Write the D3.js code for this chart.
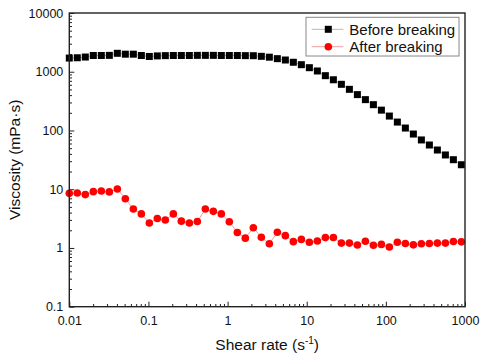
<!DOCTYPE html>
<html>
<head>
<meta charset="utf-8">
<script src="https://cdn.jsdelivr.net/npm/d3@7"></script>
<style>
  html, body { margin: 0; padding: 0; background: #fff; }
  svg { display: block; font-family: Arial, "Liberation Sans", sans-serif; }
</style>
</head>
<body>
<div id="chart"></div>
<script>
// shear rate (1/s), about ten points per decade
const shearRate = [
  0.01, 0.01262, 0.01593, 0.02011, 0.02539, 0.03205, 0.04045, 0.05106, 0.06445, 0.08136,
  0.1026, 0.1295, 0.1634, 0.2063, 0.2604, 0.3287, 0.4149, 0.5238, 0.6611, 0.8337,
  1.052, 1.328, 1.676, 2.115, 2.670, 3.370, 4.254, 5.369, 6.777, 8.554,
  10.80, 13.63, 17.20, 21.72, 27.41, 34.60, 43.67, 55.13, 69.58, 87.83,
  110.7, 139.7, 176.4, 222.6, 281.0, 354.7, 447.7, 565.1, 713.2, 899.7,
];

const viscosityBefore = [
  1710, 1730, 1780, 1890, 1890, 1900, 2060, 1990, 1990, 1890,
  1820, 1860, 1880, 1890, 1890, 1890, 1900, 1900, 1900, 1890,
  1890, 1890, 1880, 1875, 1830, 1770, 1670, 1584, 1450, 1318,
  1172, 1030, 857, 730, 611, 502, 408, 335, 275, 222,
  176, 139, 110, 87, 69, 56.6, 46.5, 38.3, 31.8, 26.1,
];

const viscosityAfter = [
  8.5, 8.6, 8.1, 9.1, 9.3, 9.0, 10.1, 6.9, 4.6, 3.8,
  2.66, 3.17, 3.0, 3.8, 2.86, 2.66, 2.82, 4.6, 4.2, 3.8,
  2.8, 1.83, 1.47, 2.21, 1.52, 1.18, 1.85, 1.62, 1.28, 1.40,
  1.25, 1.31, 1.50, 1.51, 1.21, 1.21, 1.12, 1.30, 1.11, 1.15,
  1.04, 1.25, 1.19, 1.13, 1.18, 1.19, 1.21, 1.21, 1.29, 1.27,
];

const xTicks = [0.01, 0.1, 1, 10, 100, 1000];
const xTickLabels = ['0.01', '0.1', '1', '10', '100', '1000'];
const yTicks = [0.1, 1, 10, 100, 1000, 10000];
const yTickLabels = ['0.1', '1', '10', '100', '1000', '10000'];
const seriesNames = ['Before breaking', 'After breaking'];

const width = 484;
const height = 356;
const margin = { top: 13, right: 19, bottom: 49.3, left: 69.3 };

const svg = d3.select('#chart').append('svg')
  .attr('width', width)
  .attr('height', height)
  .attr('viewBox', `0 0 ${width} ${height}`);

const x = d3.scaleLog().domain([0.01, 1000]).range([margin.left, width - margin.right]);
const y = d3.scaleLog().domain([0.1, 10000]).range([height - margin.bottom, margin.top]);

// minor ticks 2..9 in every decade
const minorOf = (lo, hi) => {
  const out = [];
  for (let d = lo; d < hi; d *= 10) {
    for (let k = 2; k <= 9; k++) out.push(d * k);
  }
  return out;
};

const plotBottom = height - margin.bottom;

// x axis
svg.append('g')
  .attr('transform', `translate(0,${plotBottom})`)
  .call(d3.axisBottom(x).tickValues(minorOf(0.01, 1000)).tickSize(-2.7).tickFormat(''))
  .call((g) => g.select('.domain').remove());

const xAxis = svg.append('g')
  .attr('transform', `translate(0,${plotBottom})`)
  .call(d3.axisBottom(x).tickValues(xTicks).tickSize(-5).tickPadding(9)
    .tickFormat((d, i) => xTickLabels[i]));
xAxis.select('.domain').remove();
xAxis.selectAll('text').attr('font-size', 12.5).attr('fill', '#111');

// y axis
svg.append('g')
  .attr('transform', `translate(${margin.left},0)`)
  .call(d3.axisLeft(y).tickValues(minorOf(0.1, 10000)).tickSize(-2.7).tickFormat(''))
  .call((g) => g.select('.domain').remove());

const yAxis = svg.append('g')
  .attr('transform', `translate(${margin.left},0)`)
  .call(d3.axisLeft(y).tickValues(yTicks).tickSize(-5).tickPadding(6)
    .tickFormat((d, i) => yTickLabels[i]));
yAxis.select('.domain').remove();
yAxis.selectAll('text').attr('font-size', 12.5).attr('fill', '#111');

svg.selectAll('.tick line').attr('stroke', '#222').attr('stroke-width', 1);

// series
const line = d3.line().x((d) => x(d[0])).y((d) => y(d[1]));
const before = shearRate.map((s, i) => [s, viscosityBefore[i]]);
const after = shearRate.map((s, i) => [s, viscosityAfter[i]]);

svg.append('path').datum(before)
  .attr('d', line).attr('fill', 'none').attr('stroke', '#b8b8b8').attr('stroke-width', 1);
svg.append('path').datum(after)
  .attr('d', line).attr('fill', 'none').attr('stroke', '#f0a0a0').attr('stroke-width', 1);

const SQ = 7;
svg.append('g').selectAll('rect').data(before).join('rect')
  .attr('x', (d) => x(d[0]) - SQ / 2)
  .attr('y', (d) => y(d[1]) - SQ / 2)
  .attr('width', SQ)
  .attr('height', SQ)
  .attr('fill', '#000');

svg.append('g').selectAll('circle').data(after).join('circle')
  .attr('cx', (d) => x(d[0]))
  .attr('cy', (d) => y(d[1]))
  .attr('r', 3.8)
  .attr('fill', '#ff0000');

// frame
svg.append('rect')
  .attr('x', margin.left)
  .attr('y', margin.top)
  .attr('width', width - margin.left - margin.right)
  .attr('height', plotBottom - margin.top)
  .attr('fill', 'none')
  .attr('stroke', '#222')
  .attr('stroke-width', 1.4);

// legend
const legend = svg.append('g').attr('transform', 'translate(306,17.3)');
legend.append('rect')
  .attr('width', 153).attr('height', 38.7)
  .attr('fill', '#fff').attr('stroke', '#888').attr('stroke-width', 1);

const legendRows = [
  { name: seriesNames[0], line: '#b8b8b8', shape: 'square', y: 12 },
  { name: seriesNames[1], line: '#f0a0a0', shape: 'circle', y: 29.4 },
];
legendRows.forEach((row) => {
  legend.append('line')
    .attr('x1', 5.7).attr('x2', 37.3).attr('y1', row.y).attr('y2', row.y)
    .attr('stroke', row.line).attr('stroke-width', 1);
  if (row.shape === 'square') {
    legend.append('rect')
      .attr('x', 22.3 - SQ / 2).attr('y', row.y - SQ / 2)
      .attr('width', SQ).attr('height', SQ).attr('fill', '#000');
  } else {
    legend.append('circle')
      .attr('cx', 22.3).attr('cy', row.y).attr('r', 3.8).attr('fill', '#ff0000');
  }
  legend.append('text')
    .attr('x', 43.3).attr('y', row.y).attr('dy', '0.36em')
    .attr('font-size', 15).attr('fill', '#111')
    .text(row.name);
});

// axis titles
const xTitle = svg.append('text')
  .attr('x', (margin.left + width - margin.right) / 2)
  .attr('y', 350)
  .attr('text-anchor', 'middle')
  .attr('font-size', 15.5)
  .attr('fill', '#111');
xTitle.append('tspan').text('Shear rate (s');
xTitle.append('tspan').attr('dy', -6).attr('font-size', 10).text('-1');
xTitle.append('tspan').attr('dy', 6).text(')');

svg.append('text')
  .attr('transform', `translate(20,${(margin.top + plotBottom) / 2}) rotate(-90)`)
  .attr('text-anchor', 'middle')
  .attr('font-size', 15.5)
  .attr('fill', '#111')
  .text('Viscosity (mPa·s)');
</script>
</body>
</html>
